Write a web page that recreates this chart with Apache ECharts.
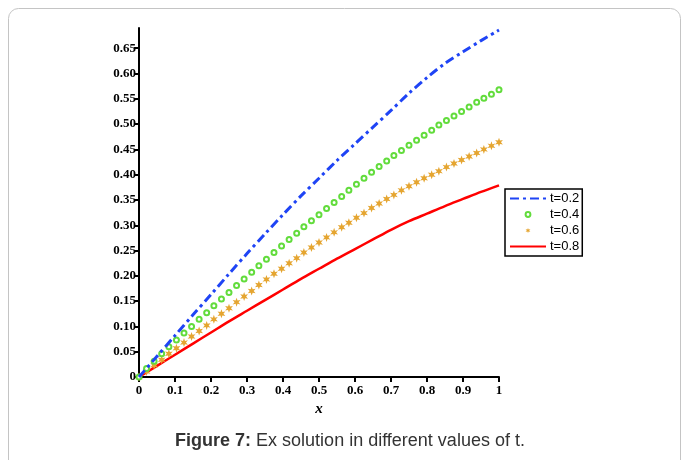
<!DOCTYPE html>
<html>
<head>
<meta charset="utf-8">
<script src="https://cdn.jsdelivr.net/npm/echarts@6/dist/echarts.min.js"></script>
<style>
html, body { margin: 0; background: #fff; }
#main { width: 683px; height: 460px; }
</style>
</head>
<body>
<div id="main"></div>
<script>
// legend names
var names = ['t=0.2', 't=0.4', 't=0.6', 't=0.8'];

// x positions of the two solid/dash-dot curves
var lineX = [0, 0.05, 0.1, 0.15, 0.2, 0.25, 0.3, 0.35, 0.4, 0.45, 0.5,
             0.55, 0.6, 0.65, 0.7, 0.75, 0.8, 0.85, 0.9, 0.95, 1];
// t=0.2 (blue dash-dot)
var blueY = [0, 0.041, 0.082, 0.123, 0.163, 0.204, 0.244, 0.283, 0.321, 0.358, 0.393,
             0.428, 0.461, 0.494, 0.527, 0.561, 0.592, 0.620, 0.643, 0.665, 0.686];
// t=0.8 (red solid)
var redY = [0, 0.022, 0.044, 0.066, 0.088, 0.110, 0.131, 0.152, 0.173, 0.194, 0.214,
            0.234, 0.253, 0.272, 0.291, 0.308, 0.323, 0.338, 0.352, 0.366, 0.379];

// x positions of the marker curves
var markX = [0, 0.021, 0.042, 0.063, 0.083, 0.104, 0.125, 0.146, 0.167, 0.188,
             0.208, 0.229, 0.25, 0.271, 0.292, 0.313, 0.333, 0.354, 0.375, 0.396,
             0.417, 0.438, 0.458, 0.479, 0.5, 0.521, 0.542, 0.563, 0.583, 0.604,
             0.625, 0.646, 0.667, 0.688, 0.708, 0.729, 0.75, 0.771, 0.792, 0.813,
             0.833, 0.854, 0.875, 0.896, 0.917, 0.938, 0.958, 0.979, 1];
// t=0.4 (green circles)
var greenY = [0, 0.017, 0.031, 0.046, 0.060, 0.073, 0.087, 0.100, 0.114, 0.127,
              0.141, 0.154, 0.167, 0.181, 0.194, 0.207, 0.220, 0.233, 0.246, 0.259,
              0.272, 0.284, 0.297, 0.309, 0.321, 0.333, 0.345, 0.357, 0.369, 0.381,
              0.393, 0.405, 0.416, 0.427, 0.438, 0.448, 0.458, 0.468, 0.478, 0.488,
              0.498, 0.507, 0.516, 0.525, 0.534, 0.543, 0.551, 0.559, 0.568];
// t=0.6 (orange stars)
var orangeY = [0, 0.011, 0.023, 0.034, 0.046, 0.057, 0.068, 0.080, 0.091, 0.102,
               0.114, 0.125, 0.136, 0.148, 0.159, 0.170, 0.182, 0.193, 0.204, 0.214,
               0.225, 0.235, 0.246, 0.256, 0.266, 0.276, 0.286, 0.296, 0.305, 0.315,
               0.324, 0.334, 0.343, 0.352, 0.360, 0.369, 0.377, 0.385, 0.393, 0.400,
               0.407, 0.415, 0.422, 0.429, 0.436, 0.443, 0.450, 0.457, 0.464];

// tick labels
var xTicks = [0, 0.1, 0.2, 0.3, 0.4, 0.5, 0.6, 0.7, 0.8, 0.9, 1];
var yTicks = [0, 0.05, 0.1, 0.15, 0.2, 0.25, 0.3, 0.35, 0.4, 0.45, 0.5, 0.55, 0.6, 0.65];

function pairs(xs, ys) {
    return xs.map(function (x, i) { return [x, ys[i]]; });
}

var starPath = 'path://M0,-10L2.2,-3.8L8.66,-5L4.4,0L8.66,5L2.2,3.8L0,10L-2.2,3.8L-8.66,5L-4.4,0L-8.66,-5L-2.2,-3.8Z';
var tickFont = {fontFamily: 'Liberation Serif', fontWeight: 'bold', fontSize: 13, color: '#000'};

var myChart = echarts.init(document.getElementById('main'));

var option = {
    animation: false,
    backgroundColor: '#fff',
    graphic: [
        {
            type: 'rect',
            shape: {x: 8.5, y: 8.5, width: 672, height: 480, r: 10},
            style: {fill: 'none', stroke: '#c4c4c4', lineWidth: 1}
        },
        {
            type: 'text',
            x: 350, y: 441,
            style: {
                text: '{b|Figure 7:} Ex solution in different values of t.',
                fontFamily: 'Liberation Sans', fontSize: 18, fill: '#333',
                align: 'center', verticalAlign: 'middle',
                rich: {b: {fontFamily: 'Liberation Sans', fontSize: 18, fontWeight: 'bold', fill: '#333'}}
            }
        }
    ],
    grid: {left: 139, right: 184, top: 28, bottom: 83},
    legend: {
        orient: 'vertical',
        left: 505, top: 189,
        data: [
            {name: names[0], itemStyle: {opacity: 0}},
            {name: names[1]},
            {name: names[2]},
            {name: names[3], itemStyle: {opacity: 0}}
        ],
        itemWidth: 36, itemHeight: 6, itemGap: 3,
        padding: [3, 3, 3, 4],
        borderColor: '#000', borderWidth: 1.5,
        textStyle: {fontFamily: 'Liberation Sans', fontSize: 13, color: '#000', padding: [0, 0, 0, -1]}
    },
    xAxis: {
        type: 'value', min: 0, max: 1, interval: 0.1,
        name: 'x', nameLocation: 'middle', nameGap: 23,
        nameTextStyle: {fontFamily: 'Liberation Serif', fontStyle: 'italic', fontWeight: 'bold', fontSize: 15, color: '#000'},
        axisLine: {lineStyle: {color: '#000', width: 2}},
        axisTick: {customValues: xTicks, length: 5, lineStyle: {color: '#000', width: 2}},
        axisLabel: Object.assign({customValues: xTicks, margin: 7, formatter: function (v) {
            return (v === 0 || v === 1) ? String(v) : v.toFixed(1);
        }}, tickFont),
        splitLine: {show: false}
    },
    yAxis: {
        type: 'value', min: 0, max: 0.69,
        axisLine: {lineStyle: {color: '#000', width: 2}},
        axisTick: {customValues: yTicks, length: 5, lineStyle: {color: '#000', width: 2}},
        axisLabel: Object.assign({customValues: yTicks, margin: 3, formatter: function (v) {
            return v === 0 ? '0' : v.toFixed(2);
        }}, tickFont),
        splitLine: {show: false}
    },
    series: [
        {
            name: names[3], type: 'line', symbol: 'none', z: 2, smooth: 0.3,
            data: pairs(lineX, redY),
            itemStyle: {color: '#ff0000'},
            lineStyle: {color: '#ff0000', width: 2.5}
        },
        {
            name: names[2], type: 'line', symbol: starPath, symbolSize: 9, symbolKeepAspect: true, z: 3,
            showAllSymbol: true,
            data: pairs(markX, orangeY),
            itemStyle: {color: '#e5a530'},
            lineStyle: {width: 0, opacity: 0}
        },
        {
            name: names[1], type: 'line', symbol: 'emptyCircle', symbolSize: 5, z: 4,
            showAllSymbol: true,
            data: pairs(markX, greenY),
            itemStyle: {color: '#62dc3c', borderWidth: 1.1},
            lineStyle: {width: 0, opacity: 0}
        },
        {
            name: names[0], type: 'line', symbol: 'none', z: 5, smooth: 0.3,
            data: pairs(lineX, blueY),
            itemStyle: {color: '#1f44f5'},
            lineStyle: {color: '#1f44f5', width: 3, type: [9, 4, 3, 4]}
        }
    ]
};

myChart.setOption(option);
</script>
</body>
</html>
